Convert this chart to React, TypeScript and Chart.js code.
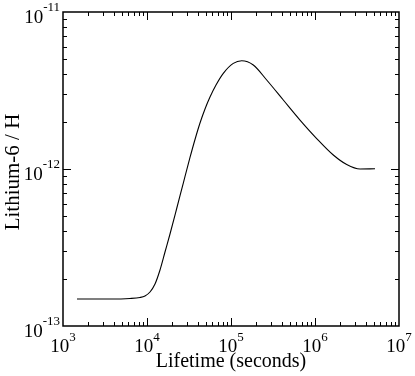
import React, { useEffect, useRef } from "react";
import { Chart, registerables } from "chart.js";

Chart.register(...registerables);

// Lifetime (seconds)
const lifetimes = [
  1468, 3627, 6276, 8254, 9467, 10857, 12452, 14283, 16380, 18785, 22574, 27051,
  32508, 37276, 42756, 49030, 56234, 66290, 80963, 106510, 134120, 184330, 266070,
  419400, 662900, 1047600, 1651800, 2384600, 3434000, 5179500,
];
// Lithium-6 / H
const li6Ratio = [
  1.486e-13, 1.486e-13, 1.497e-13, 1.519e-13, 1.553e-13, 1.646e-13, 1.851e-13,
  2.273e-13, 2.96e-13, 3.855e-13, 5.603e-13, 8.14e-13, 1.184e-12, 1.541e-12,
  1.963e-12, 2.411e-12, 2.874e-12, 3.428e-12, 4.07e-12, 4.71e-12, 4.896e-12,
  4.596e-12, 3.688e-12, 2.751e-12, 2.051e-12, 1.564e-12, 1.228e-12, 1.068e-12,
  1.0e-12, 1.004e-12,
];

const xTickValues = [1e3, 1e4, 1e5, 1e6, 1e7];
const xTickExponents = ["3", "4", "5", "6", "7"];
const yTickValues = [1e-13, 1e-12, 1e-11];
const yTickExponents = ["-13", "-12", "-11"];
const xTitle = "Lifetime (seconds)";
const yTitle = "Lithium-6 / H";

const SERIF = '"Liberation Serif", "Times New Roman", serif';

const framePlugin = {
  id: "framePlugin",
  afterDraw(chart: any) {
    const ctx = chart.ctx;
    const { left, right, top, bottom } = chart.chartArea;
    const xs = chart.scales.x;
    const ys = chart.scales.y;
    ctx.save();
    ctx.strokeStyle = "#000";
    ctx.lineWidth = 1.5;
    ctx.strokeRect(left, top, right - left, bottom - top);

    ctx.lineWidth = 1;
    ctx.beginPath();
    for (let e = 3; e < 7; e++) {
      for (let m = 1; m <= 9; m++) {
        if (m === 1 && e === 3) continue;
        const v = m * Math.pow(10, e);
        const px = Math.round(xs.getPixelForValue(v)) + 0.5;
        const len = m === 1 ? 8 : 4;
        ctx.moveTo(px, bottom);
        ctx.lineTo(px, bottom - len);
        ctx.moveTo(px, top);
        ctx.lineTo(px, top + len);
      }
    }
    for (let e = -13; e < -11; e++) {
      for (let m = 1; m <= 9; m++) {
        if (m === 1 && e === -13) continue;
        const v = m * Math.pow(10, e);
        const py = Math.round(ys.getPixelForValue(v)) + 0.5;
        const len = m === 1 ? 8 : 4;
        ctx.moveTo(left, py);
        ctx.lineTo(left + len, py);
        ctx.moveTo(right, py);
        ctx.lineTo(right - len, py);
      }
    }
    ctx.stroke();

    ctx.fillStyle = "#000";
    const baseFont = `19px ${SERIF}`;
    const expFont = `13px ${SERIF}`;
    xTickValues.forEach((v, i) => {
      const px = xs.getPixelForValue(v);
      ctx.font = baseFont;
      const w1 = ctx.measureText("10").width;
      ctx.font = expFont;
      const w2 = ctx.measureText(xTickExponents[i]).width;
      const x0 = px - (w1 + w2) / 2;
      ctx.textAlign = "left";
      ctx.textBaseline = "alphabetic";
      ctx.font = baseFont;
      ctx.fillText("10", x0, bottom + 26);
      ctx.font = expFont;
      ctx.fillText(xTickExponents[i], x0 + w1, bottom + 15);
    });
    yTickValues.forEach((v, i) => {
      const py = ys.getPixelForValue(v);
      ctx.font = expFont;
      const w2 = ctx.measureText(yTickExponents[i]).width;
      const xr = left - 3;
      ctx.textAlign = "left";
      ctx.textBaseline = "alphabetic";
      ctx.fillText(yTickExponents[i], xr - w2, py - 1);
      ctx.font = baseFont;
      const w1 = ctx.measureText("10").width;
      ctx.fillText("10", xr - w2 - w1, py + 11);
    });
    ctx.font = `20px ${SERIF}`;
    ctx.textAlign = "center";
    ctx.textBaseline = "alphabetic";
    ctx.fillText(xTitle, (left + right) / 2, bottom + 41);
    ctx.save();
    ctx.translate(19, 172);
    ctx.rotate(-Math.PI / 2);
    ctx.font = `21px ${SERIF}`;
    ctx.fillText(yTitle, 0, 0);
    ctx.restore();
    ctx.restore();
  },
};

export default function App() {
  const ref = useRef<HTMLCanvasElement | null>(null);
  useEffect(() => {
    if (!ref.current) return;
    const chart = new Chart(ref.current, {
      type: "line",
      data: {
        datasets: [
          {
            data: lifetimes.map((x, i) => ({ x, y: li6Ratio[i] })),
            borderColor: "#000",
            borderWidth: 1.1,
            pointRadius: 0,
            fill: false,
            cubicInterpolationMode: "monotone",
          },
        ],
      },
      options: {
        animation: false,
        responsive: false,
        devicePixelRatio: 1,
        layout: { padding: { left: 63, top: 12, right: 16, bottom: 50 } },
        plugins: { legend: { display: false }, tooltip: { enabled: false } },
        scales: {
          x: { type: "logarithmic", min: 1e3, max: 1e7, display: false },
          y: { type: "logarithmic", min: 1e-13, max: 1e-11, display: false },
        },
      },
      plugins: [framePlugin],
    } as any);
    return () => chart.destroy();
  }, []);
  return (
    <div style={{ position: "absolute", left: 0, top: 0, width: 415, height: 376, background: "#fff" }}>
      <canvas ref={ref} width={415} height={376} />
    </div>
  );
}
